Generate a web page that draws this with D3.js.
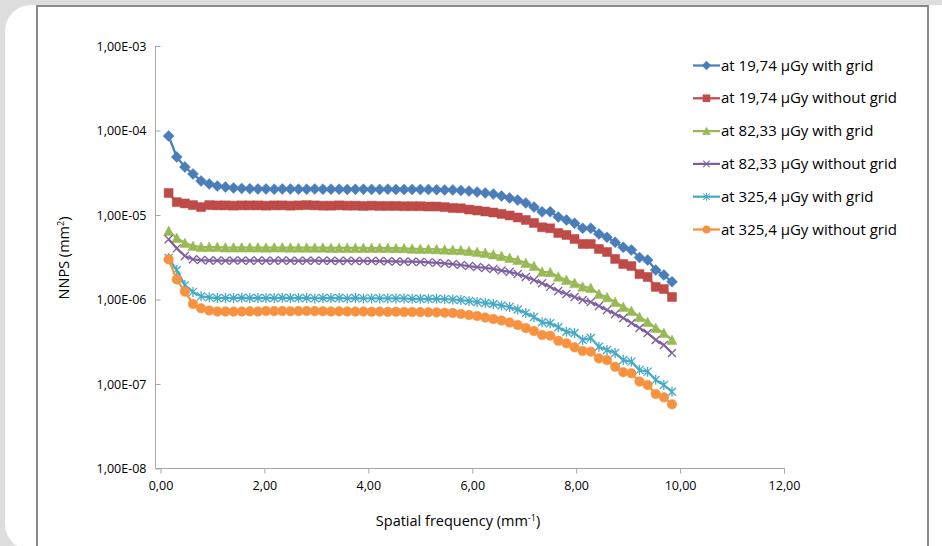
<!DOCTYPE html>
<html>
<head>
<meta charset="utf-8">
<script src="https://cdn.jsdelivr.net/npm/d3@7"></script>
<style>
  body { margin: 0; background: #dddddd; }
  svg { display: block; }
  .tick text { font-family: "Open Sans", sans-serif; font-size: 12.5px; fill: #000; }
</style>
</head>
<body>
<script>
// spatial frequency (mm-1)
var freq = [0.156, 0.313, 0.469, 0.625, 0.781, 0.938, 1.094, 1.25, 1.406, 1.563,
  1.719, 1.875, 2.031, 2.188, 2.344, 2.5, 2.656, 2.813, 2.969, 3.125,
  3.281, 3.438, 3.594, 3.75, 3.906, 4.063, 4.219, 4.375, 4.531, 4.688,
  4.844, 5.0, 5.156, 5.313, 5.469, 5.625, 5.781, 5.938, 6.094, 6.25,
  6.406, 6.563, 6.719, 6.875, 7.031, 7.188, 7.344, 7.5, 7.656, 7.813,
  7.969, 8.125, 8.281, 8.438, 8.594, 8.75, 8.906, 9.063, 9.219, 9.375,
  9.531, 9.688, 9.844];

var grid1974 = [8.61e-5, 4.86e-5, 3.70e-5, 3.06e-5, 2.53e-5, 2.33e-5, 2.20e-5, 2.14e-5, 2.09e-5, 2.06e-5,
  2.04e-5, 2.03e-5, 2.03e-5, 2.02e-5, 2.03e-5, 2.03e-5, 2.02e-5, 2.02e-5, 2.03e-5, 2.02e-5,
  2.02e-5, 2.02e-5, 2.01e-5, 2.02e-5, 2.02e-5, 2.01e-5, 2.01e-5, 2.02e-5, 2.01e-5, 2.01e-5,
  2.01e-5, 2.00e-5, 2.00e-5, 1.99e-5, 1.98e-5, 1.98e-5, 1.95e-5, 1.92e-5, 1.87e-5, 1.82e-5,
  1.77e-5, 1.68e-5, 1.59e-5, 1.50e-5, 1.39e-5, 1.24e-5, 1.09e-5, 1.09e-5, 9.47e-6, 8.73e-6,
  7.98e-6, 6.96e-6, 6.96e-6, 5.96e-6, 5.45e-6, 4.75e-6, 4.15e-6, 3.85e-6, 3.14e-6, 2.93e-6,
  2.23e-6, 1.95e-6, 1.62e-6];

var nogrid1974 = [1.82e-5, 1.42e-5, 1.37e-5, 1.31e-5, 1.24e-5, 1.31e-5, 1.30e-5, 1.30e-5, 1.29e-5, 1.30e-5,
  1.30e-5, 1.30e-5, 1.29e-5, 1.30e-5, 1.30e-5, 1.29e-5, 1.30e-5, 1.31e-5, 1.30e-5, 1.29e-5,
  1.29e-5, 1.30e-5, 1.29e-5, 1.29e-5, 1.28e-5, 1.29e-5, 1.28e-5, 1.28e-5, 1.28e-5, 1.27e-5,
  1.27e-5, 1.27e-5, 1.26e-5, 1.26e-5, 1.24e-5, 1.21e-5, 1.20e-5, 1.16e-5, 1.13e-5, 1.10e-5,
  1.07e-5, 1.03e-5, 9.87e-6, 9.34e-6, 8.73e-6, 8.04e-6, 7.15e-6, 6.96e-6, 6.12e-6, 5.80e-6,
  5.20e-6, 4.54e-6, 4.54e-6, 3.96e-6, 3.65e-6, 3.02e-6, 2.63e-6, 2.49e-6, 2.00e-6, 1.85e-6,
  1.41e-6, 1.33e-6, 1.07e-6];

var grid8233 = [6.47e-6, 5.34e-6, 4.66e-6, 4.30e-6, 4.18e-6, 4.18e-6, 4.18e-6, 4.12e-6, 4.12e-6, 4.13e-6,
  4.12e-6, 4.12e-6, 4.11e-6, 4.12e-6, 4.12e-6, 4.11e-6, 4.10e-6, 4.11e-6, 4.10e-6, 4.10e-6,
  4.08e-6, 4.07e-6, 4.07e-6, 4.08e-6, 4.07e-6, 4.06e-6, 4.07e-6, 4.06e-6, 4.05e-6, 4.04e-6,
  3.98e-6, 3.97e-6, 3.95e-6, 3.92e-6, 3.89e-6, 3.86e-6, 3.82e-6, 3.75e-6, 3.65e-6, 3.55e-6,
  3.41e-6, 3.27e-6, 3.10e-6, 2.93e-6, 2.70e-6, 2.49e-6, 2.13e-6, 2.10e-6, 1.86e-6, 1.70e-6,
  1.57e-6, 1.42e-6, 1.37e-6, 1.16e-6, 1.06e-6, 9.34e-7, 8.15e-7, 7.31e-7, 6.21e-7, 5.42e-7,
  4.60e-7, 4.01e-7, 3.32e-7];

var nogrid8233 = [5.16e-6, 4.03e-6, 3.27e-6, 2.99e-6, 2.93e-6, 2.89e-6, 2.89e-6, 2.88e-6, 2.89e-6, 2.89e-6,
  2.88e-6, 2.89e-6, 2.88e-6, 2.88e-6, 2.89e-6, 2.88e-6, 2.87e-6, 2.88e-6, 2.88e-6, 2.87e-6,
  2.87e-6, 2.86e-6, 2.87e-6, 2.86e-6, 2.86e-6, 2.85e-6, 2.85e-6, 2.83e-6, 2.82e-6, 2.80e-6,
  2.80e-6, 2.78e-6, 2.75e-6, 2.72e-6, 2.67e-6, 2.63e-6, 2.56e-6, 2.49e-6, 2.42e-6, 2.36e-6,
  2.30e-6, 2.20e-6, 2.12e-6, 2.00e-6, 1.85e-6, 1.70e-6, 1.56e-6, 1.41e-6, 1.26e-6, 1.16e-6,
  1.07e-6, 9.86e-7, 9.34e-7, 8.38e-7, 7.51e-7, 6.74e-7, 6.04e-7, 5.27e-7, 4.60e-7, 4.01e-7,
  3.32e-7, 2.89e-7, 2.33e-7];

var grid3254 = [3.10e-6, 2.23e-6, 1.48e-6, 1.23e-6, 1.09e-6, 1.06e-6, 1.04e-6, 1.04e-6, 1.04e-6, 1.05e-6,
  1.04e-6, 1.04e-6, 1.04e-6, 1.04e-6, 1.05e-6, 1.04e-6, 1.04e-6, 1.04e-6, 1.03e-6, 1.04e-6,
  1.04e-6, 1.04e-6, 1.03e-6, 1.04e-6, 1.03e-6, 1.03e-6, 1.03e-6, 1.03e-6, 1.03e-6, 1.03e-6,
  1.02e-6, 1.02e-6, 1.02e-6, 1.02e-6, 1.01e-6, 1.00e-6, 9.86e-7, 9.60e-7, 9.34e-7, 9.09e-7,
  8.85e-7, 8.49e-7, 8.15e-7, 7.60e-7, 6.90e-7, 6.20e-7, 5.37e-7, 5.23e-7, 4.69e-7, 4.16e-7,
  4.01e-7, 3.32e-7, 3.50e-7, 2.76e-7, 2.53e-7, 2.33e-7, 1.92e-7, 1.84e-7, 1.46e-7, 1.40e-7,
  1.12e-7, 9.73e-8, 8.11e-8];

var nogrid3254 = [2.99e-6, 1.73e-6, 1.24e-6, 8.85e-7, 7.87e-7, 7.41e-7, 7.21e-7, 7.21e-7, 7.18e-7, 7.21e-7,
  7.24e-7, 7.21e-7, 7.31e-7, 7.28e-7, 7.31e-7, 7.26e-7, 7.28e-7, 7.31e-7, 7.28e-7, 7.26e-7,
  7.21e-7, 7.23e-7, 7.21e-7, 7.18e-7, 7.21e-7, 7.16e-7, 7.18e-7, 7.14e-7, 7.16e-7, 7.11e-7,
  7.11e-7, 7.08e-7, 7.06e-7, 7.04e-7, 6.98e-7, 6.92e-7, 6.74e-7, 6.55e-7, 6.38e-7, 6.12e-7,
  5.88e-7, 5.64e-7, 5.34e-7, 4.99e-7, 4.60e-7, 4.24e-7, 3.80e-7, 3.73e-7, 3.25e-7, 3.03e-7,
  2.72e-7, 2.46e-7, 2.41e-7, 2.01e-7, 1.92e-7, 1.60e-7, 1.38e-7, 1.34e-7, 1.07e-7, 9.73e-8,
  7.62e-8, 6.96e-8, 5.75e-8];

var seriesNames = ["at 19,74 \u00b5Gy with grid", "at 19,74 \u00b5Gy without grid",
  "at 82,33 \u00b5Gy with grid", "at 82,33 \u00b5Gy without grid",
  "at 325,4 \u00b5Gy with grid", "at 325,4 \u00b5Gy without grid"];
var seriesValues = [grid1974, nogrid1974, grid8233, nogrid8233, grid3254, nogrid3254];
var colors = ["#4a7ebb", "#be4b48", "#98b954", "#7d60a0", "#46aac5", "#f69240"];
var markers = ["diamond", "square", "triangle", "x", "star", "circle"];

var xTicks = [0, 2, 4, 6, 8, 10, 12];
var yTicks = [1e-8, 1e-7, 1e-6, 1e-5, 1e-4, 1e-3];

var W = 942, H = 546;
var svg = d3.select("body").append("svg").attr("width", W).attr("height", H);

// background card + chart frame
svg.append("rect").attr("width", W).attr("height", H).attr("fill", "#dddddd");
svg.append("rect").attr("x", 5).attr("y", 5).attr("width", 980).attr("height", 545)
  .attr("rx", 26).attr("fill", "#ffffff");
svg.append("rect").attr("x", 37).attr("y", 6).attr("width", 891).attr("height", 600)
  .attr("fill", "none").attr("stroke", "#8a8a8a").attr("stroke-width", 2);

var x = d3.scaleLinear().domain([0, 12]).range([160.5, 784]);
var y = d3.scaleLog().domain([1e-8, 1e-3]).range([468.5, 46]);

function yFmt(d) {
  var e = Math.round(Math.log10(d));
  return "1,00E" + (e < 0 ? "-" : "+") + (Math.abs(e) < 10 ? "0" : "") + Math.abs(e);
}

var yAxis = svg.append("g").attr("transform", "translate(160.5,0)")
  .call(d3.axisLeft(y).tickValues(yTicks).tickFormat(yFmt).tickSize(5).tickPadding(9));
var xAxis = svg.append("g").attr("transform", "translate(0,468.5)")
  .call(d3.axisBottom(x).tickValues(xTicks).tickFormat(function(d) { return d.toFixed(2).replace(".", ","); })
    .tickSize(5).tickPadding(8));
svg.selectAll(".domain").attr("stroke", "#a6a6a6");
svg.selectAll(".tick line").attr("stroke", "#a6a6a6");
xAxis.select(".domain").attr("d", "M160.5,0H784.5V5");
yAxis.select(".domain").attr("d", "M-5,46V468.5H0");

// axis titles
svg.append("text").attr("transform", "translate(69,258) rotate(-90)")
  .attr("text-anchor", "middle").attr("font-family", "Open Sans, sans-serif").attr("font-size", 14.5)
  .html("NNPS (mm<tspan dy='-5' font-size='9'>2</tspan><tspan dy='5'>)</tspan>");
svg.append("text").attr("x", 458).attr("y", 526)
  .attr("text-anchor", "middle").attr("font-family", "Open Sans, sans-serif").attr("font-size", 14.5)
  .html("Spatial frequency (mm<tspan dy='-5' font-size='9'>-1</tspan><tspan dy='5'>)</tspan>");

function markerPath(type) {
  if (type == "diamond") return "M0,-5.5L5.5,0L0,5.5L-5.5,0Z";
  if (type == "square") return "M-4.5,-4.5H4.5V4.5H-4.5Z";
  if (type == "triangle") return "M0,-5L5,4.5H-5Z";
  if (type == "x") return "M-4,-4L4,4M-4,4L4,-4";
  if (type == "star") return "M-4,-4L4,4M-4,4L4,-4M0,-5V5";
  return "M4.8,0A4.8,4.8 0 1,1 -4.8,0A4.8,4.8 0 1,1 4.8,0Z";
}
function isOpen(type) { return type == "x" || type == "star"; }

var line = d3.line().x(function(d, i) { return x(freq[i]); }).y(function(d) { return y(d); });

seriesValues.forEach(function(vals, s) {
  var g = svg.append("g");
  g.append("path").attr("d", line(vals)).attr("fill", "none")
    .attr("stroke", colors[s]).attr("stroke-width", 2.25).attr("stroke-linejoin", "round");
  g.selectAll("path.m").data(vals).enter().append("path").attr("class", "m")
    .attr("transform", function(d, i) { return "translate(" + x(freq[i]) + "," + y(d) + ")"; })
    .attr("d", markerPath(markers[s]))
    .attr("fill", isOpen(markers[s]) ? "none" : colors[s])
    .attr("stroke", colors[s]).attr("stroke-width", isOpen(markers[s]) ? 1.3 : 0.5);
});

// legend
var legendY = d3.scaleLinear().domain([0, 5]).range([65.5, 229.5]);
var leg = svg.append("g").selectAll("g").data(seriesNames).enter().append("g")
  .attr("transform", function(d, i) { return "translate(693," + legendY(i) + ")"; });
leg.append("line").attr("x1", 0).attr("x2", 27).attr("stroke", function(d, i) { return colors[i]; })
  .attr("stroke-width", 2.25);
leg.append("path").attr("transform", "translate(13.5,0) scale(0.8)")
  .attr("d", function(d, i) { return markerPath(markers[i]); })
  .attr("fill", function(d, i) { return isOpen(markers[i]) ? "none" : colors[i]; })
  .attr("stroke", function(d, i) { return colors[i]; })
  .attr("stroke-width", function(d, i) { return isOpen(markers[i]) ? 1.3 : 0.5; });
leg.append("text").attr("x", 28).attr("y", 5)
  .attr("font-family", "Open Sans, sans-serif").attr("font-size", 15)
  .text(function(d) { return d; });
</script>
</body>
</html>
